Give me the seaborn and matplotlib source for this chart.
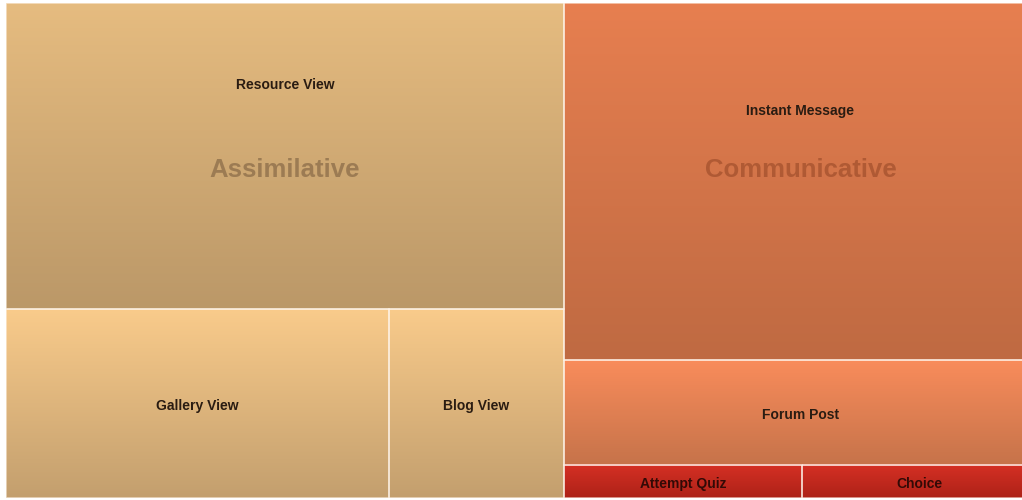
import numpy as np
import matplotlib
matplotlib.use("Agg")
import matplotlib.pyplot as plt
import seaborn as sns

# ---- data -------------------------------------------------------------
groups = ["Assimilative", "Communicative"]

activities = ["Resource View", "Gallery View", "Blog View",
              "Instant Message", "Forum Post", "Attempt Quiz", "Choice"]
activity_group = ["Assimilative", "Assimilative", "Assimilative",
                  "Communicative", "Communicative", "Communicative", "Communicative"]
activity_counts = [3346, 1418, 648, 3309, 973, 154, 152]
# strip (row) of the group each activity is laid out in
activity_strip = [0, 1, 1, 0, 1, 2, 2]

# ---- colours ------------------------------------------------------------
tile_top = {"Resource View": "#e6bc80", "Gallery View": "#f9cb8b", "Blog View": "#f9cb8b",
            "Instant Message": "#e77f50", "Forum Post": "#f98c5b",
            "Attempt Quiz": "#d63024", "Choice": "#d63024"}
tile_bottom = {"Resource View": "#bb9868", "Gallery View": "#c39f6e", "Blog View": "#c39f6e",
               "Instant Message": "#bf6a42", "Forum Post": "#c6734a",
               "Attempt Quiz": "#ad2218", "Choice": "#ad2218"}
label_color = {"Attempt Quiz": "#330a06", "Choice": "#330a06"}
group_label_color = {"Assimilative": "#977750", "Communicative": "#ac5732"}

sns.set_theme(style="white")
plt.rcParams["font.family"] = ["Liberation Sans", "DejaVu Sans"]

W, H = 1031.0, 495.0          # plotting area in pixels (treemap keeps areas true)
fig = plt.figure(figsize=(10.22, 5.0), dpi=100)
ax = fig.add_axes([6 / 1022, 2 / 500, W / 1022, H / 500])
ax.set_axis_off()

total = float(sum(activity_counts))

# ---- strip treemap layout ----------------------------------------------
x_cursor = 0.0
for g in groups:
    idx = [i for i, ag in enumerate(activity_group) if ag == g]
    g_total = float(sum(activity_counts[i] for i in idx))
    g_w = g_total / total * W
    strips = sorted(set(activity_strip[i] for i in idx))
    y_cursor = 0.0
    first_tile = None
    for s in strips:
        members = [i for i in idx if activity_strip[i] == s]
        s_total = float(sum(activity_counts[i] for i in members))
        s_h = s_total / g_total * H
        xx = x_cursor
        for i in members:
            w = activity_counts[i] / s_total * g_w
            name = activities[i]
            cmap = sns.blend_palette([tile_top[name], tile_bottom[name]], as_cmap=True)
            grad = np.linspace(0, 1, 256).reshape(-1, 1)
            ax.imshow(grad, cmap=cmap, aspect="auto", origin="upper",
                      extent=(xx, xx + w, y_cursor + s_h, y_cursor), zorder=1,
                      interpolation="bilinear")
            ax.bar(xx, s_h, width=w, bottom=y_cursor, align="edge",
                   facecolor="none", edgecolor=(1, 0.96, 0.92, 0.7),
                   linewidth=1.1, zorder=2)
            cy = y_cursor + s_h / 2 + 0.005 * H
            if first_tile is None:
                first_tile = i
                cy = cy - 0.148 * H   # keep clear of the group caption
            ax.text(xx + w / 2, cy, name, ha="center", va="center",
                    fontsize=10, fontweight="bold",
                    color=label_color.get(name, "#2a1c12"), zorder=4)
            xx += w
        y_cursor += s_h
    ax.text(x_cursor + g_w / 2, 0.337 * H, g, ha="center", va="center",
            fontsize=18.5, fontweight="bold", color=group_label_color[g],
            alpha=0.9, zorder=3)
    x_cursor += g_w

ax.set_xlim(0, W)
ax.set_ylim(H, 0)

fig.savefig("out.png", dpi=100, facecolor="white")
